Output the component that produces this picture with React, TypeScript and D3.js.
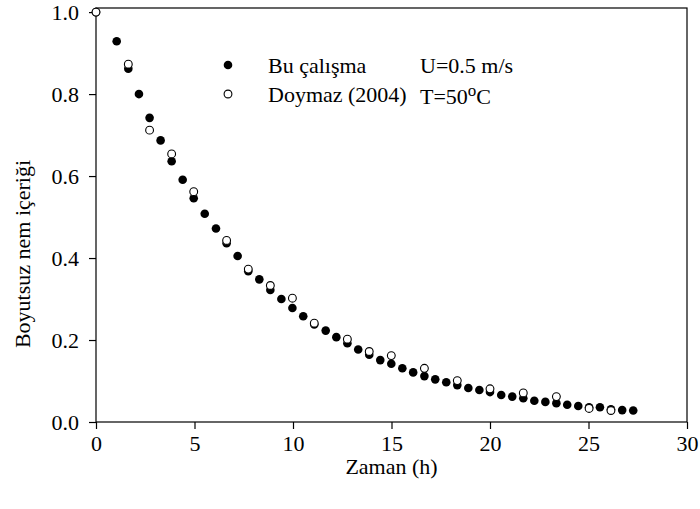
import React, { useEffect, useRef } from 'react';
import * as d3 from 'd3';

// Bu çalışma (filled circles)
const buTime = [0, 1.05, 1.64, 2.18, 2.72, 3.28, 3.84, 4.40, 4.96, 5.52, 6.09, 6.63, 7.19, 7.73, 8.29, 8.85, 9.41, 9.97, 10.52, 11.08, 11.66, 12.2, 12.76, 13.31, 13.87, 14.43, 14.99, 15.55, 16.1, 16.67, 17.22, 17.78, 18.34, 18.9, 19.46, 20.0, 20.57, 21.13, 21.69, 22.25, 22.81, 23.37, 23.92, 24.48, 25.03, 25.58, 26.14, 26.71, 27.27];
const buValue = [1.0, 0.929, 0.862, 0.80, 0.742, 0.687, 0.636, 0.591, 0.546, 0.508, 0.472, 0.436, 0.405, 0.368, 0.348, 0.322, 0.300, 0.278, 0.258, 0.238, 0.223, 0.207, 0.192, 0.177, 0.164, 0.151, 0.142, 0.131, 0.121, 0.112, 0.104, 0.097, 0.090, 0.083, 0.078, 0.073, 0.066, 0.062, 0.058, 0.052, 0.049, 0.046, 0.042, 0.039, 0.036, 0.036, 0.031, 0.029, 0.028];

// Doymaz (2004) (open circles)
const doyTime = [0, 1.64, 2.72, 3.84, 4.96, 6.63, 7.73, 8.85, 9.97, 11.08, 12.76, 13.87, 14.99, 16.67, 18.34, 20.0, 21.69, 23.37, 25.03, 26.14];
const doyValue = [1.0, 0.873, 0.712, 0.654, 0.562, 0.443, 0.373, 0.333, 0.302, 0.241, 0.202, 0.172, 0.162, 0.131, 0.101, 0.081, 0.071, 0.062, 0.033, 0.028];

const xTicks = [0, 5, 10, 15, 20, 25, 30];
const yTicks = [0, 0.2, 0.4, 0.6, 0.8, 1.0];

const App = () => {
  const svgRef = useRef<SVGSVGElement>(null);

  useEffect(() => {
    const svg = d3.select(svgRef.current);
    svg.selectAll('*').remove();

    const font = '"Liberation Serif", "Times New Roman", serif';
    const fs = '22px';
    const left = 96, right = 687, top = 8, bottom = 422;

    const x = d3.scaleLinear().domain([0, 30]).range([left, right]);
    const y = d3.scaleLinear().domain([0, 1.01]).range([bottom, top]);

    // frame
    svg.append('rect')
      .attr('x', left).attr('y', top)
      .attr('width', right - left).attr('height', bottom - top)
      .attr('fill', 'none').attr('stroke', '#000').attr('stroke-width', 1.2);

    // x axis
    svg.append('g')
      .attr('transform', `translate(0,${bottom})`)
      .call(d3.axisBottom(x).tickValues(xTicks).tickSize(7).tickPadding(6).tickFormat(d3.format('d')))
      .call(g => g.select('.domain').remove())
      .call(g => g.selectAll('line').attr('stroke-width', 1.2))
      .call(g => g.selectAll('text').style('font-family', font).style('font-size', fs).attr('fill', '#000'));

    // y axis
    svg.append('g')
      .attr('transform', `translate(${left},0)`)
      .call(d3.axisLeft(y).tickValues(yTicks).tickSize(7).tickPadding(10).tickFormat(d3.format('.1f')))
      .call(g => g.select('.domain').remove())
      .call(g => g.selectAll('line').attr('stroke-width', 1.2))
      .call(g => g.selectAll('text').style('font-family', font).style('font-size', fs).attr('fill', '#000'));

    // axis titles
    svg.append('text')
      .attr('x', (left + right) / 2).attr('y', 474)
      .attr('text-anchor', 'middle')
      .style('font-family', font).style('font-size', fs)
      .text('Zaman (h)');

    svg.append('text')
      .attr('transform', 'translate(30,254) rotate(-90)')
      .attr('text-anchor', 'middle')
      .style('font-family', font).style('font-size', fs)
      .text('Boyutsuz nem içeriği');

    // filled points
    svg.append('g').selectAll('circle')
      .data(buTime)
      .enter()
      .append('circle')
      .attr('cx', d => x(d))
      .attr('cy', (d, i) => y(buValue[i]))
      .attr('r', 4.3)
      .attr('fill', '#000');

    // open points
    svg.append('g').selectAll('circle')
      .data(doyTime)
      .enter()
      .append('circle')
      .attr('cx', d => x(d))
      .attr('cy', (d, i) => y(doyValue[i]))
      .attr('r', 3.9)
      .attr('fill', '#fff')
      .attr('stroke', '#000')
      .attr('stroke-width', 1.1);

    // legend
    svg.append('circle').attr('cx', 228).attr('cy', 65).attr('r', 4.3).attr('fill', '#000');
    svg.append('circle').attr('cx', 228).attr('cy', 94).attr('r', 3.9)
      .attr('fill', '#fff').attr('stroke', '#000').attr('stroke-width', 1.1);

    svg.append('text').attr('x', 268).attr('y', 73)
      .style('font-family', font).style('font-size', fs).text('Bu çalışma');
    svg.append('text').attr('x', 268).attr('y', 102)
      .style('font-family', font).style('font-size', fs).text('Doymaz (2004)');

    svg.append('text').attr('x', 420).attr('y', 73)
      .style('font-family', font).style('font-size', fs).text('U=0.5 m/s');
    const t = svg.append('text').attr('x', 420).attr('y', 104)
      .style('font-family', font).style('font-size', fs);
    t.append('tspan').text('T=50');
    t.append('tspan').attr('dy', -8).style('font-size', '17px').text('o');
    t.append('tspan').attr('dy', 8).text('C');
  }, []);

  return (
    <svg
      ref={svgRef}
      width={700}
      height={509}
      style={{ position: 'absolute', left: 0, top: 0, background: '#fff' }}
    />
  );
};

export default App;
